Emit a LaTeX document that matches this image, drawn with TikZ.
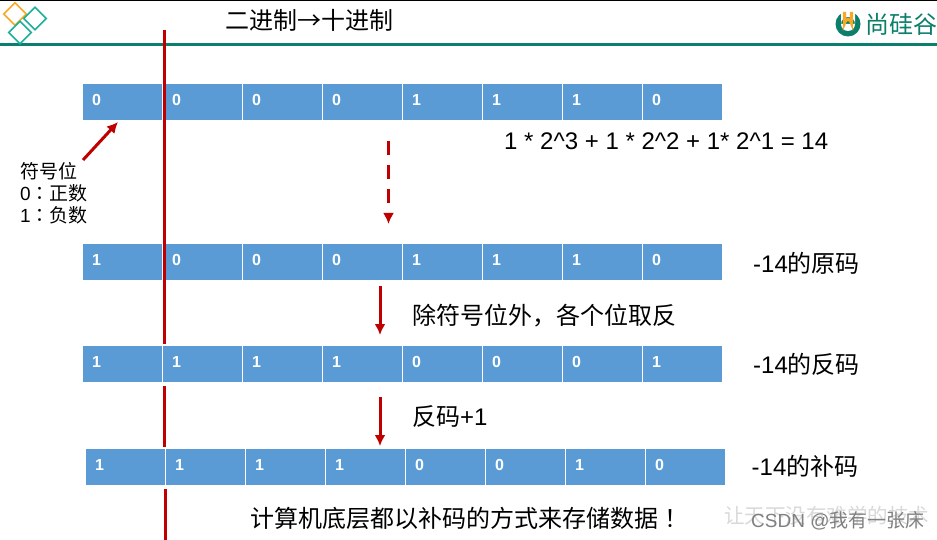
\documentclass[tikz,border=0pt]{standalone}
\usepackage{fontspec}
\setmainfont{Liberation Sans}
\newfontfamily\cjk{Noto Sans CJK SC}
\newfontfamily\cjkmid{Noto Sans CJK TC}
\usetikzlibrary{shapes.geometric,arrows.meta}

\begin{document}
\begin{tikzpicture}[x=1pt,y=-1pt,
  cell/.style={fill=cellblue,minimum width=79pt,minimum height=36pt,inner xsep=9pt,inner ysep=0pt,text width=61pt,align=left,text=white,text depth=5pt,font=\fontsize{16}{18}\selectfont\bfseries},
  txt/.style={anchor=west,inner sep=0pt,font=\fontsize{24}{28}\selectfont},
  small/.style={anchor=west,inner sep=0pt,font=\fontsize{19}{22}\selectfont},
  wmark/.style={anchor=west,inner sep=0pt,font=\fontsize{19}{22}\selectfont},
  redline/.style={draw=barred,line width=3pt},
  flow/.style={-{Latex[length=11pt,width=11pt]},draw=barred,line width=3pt},
  logo/.style={diamond,draw,line width=1.6pt,inner sep=0pt,minimum width=23pt,minimum height=23pt}]
\definecolor{cellblue}{HTML}{5B9BD5}
\definecolor{barred}{HTML}{C00000}
\definecolor{bargreen}{HTML}{0B7F6B}
\definecolor{logoteal}{HTML}{1CB09A}
\definecolor{logoorange}{HTML}{F9A825}
\useasboundingbox (0,0) rectangle (937,540);
\fill[white] (0,0) rectangle (937,540);

% Header
\draw[black,line width=1.5pt] (0,0.7) -- (937,0.7);
\draw[bargreen,line width=3pt] (0,44.5) -- (937,44.5);
\node[logo,draw=logoorange] (dia1) at (15,14) {};
\node[logo,draw=logoteal] (dia2) at (35,18.5) {};
\node[logo,draw=logoteal] (dia3) at (20,32.5) {};
\node[txt] (title) at (225,20) {\cjk 二进制→十进制};
% U mark and brand
\fill[bargreen] (848,24) circle[radius=12.5];
\fill[white] (841,9) rectangle (855,24) (848,24) circle[radius=7];
\draw[logoorange,line width=3.2pt] (844.5,12) -- (844.5,23) arc[start angle=180,end angle=360,radius=3.5] -- (851.5,12);
\node[txt,text=bargreen] (brand) at (865,24) {\cjk 尚硅谷};

% Bit rows
\foreach \rowname/\xpos/\ypos/\bits in {a/83/102/{0,0,0,0,1,1,1,0},b/83/262/{1,0,0,0,1,1,1,0},c/83/364/{1,1,1,1,0,0,0,1},d/86/467/{1,1,1,1,0,0,1,0}}
  \foreach \bit [count=\i] in \bits
    \node[cell] (\rowname\i) at ({\xpos+39.5+80*(\i-1)},\ypos) {\bit};

% Sign bit note
\node[small] (sign1) at (20,171) {\cjk 符号位};
\node[small] (sign2) at (20,193) {0{\cjkmid ：}\cjk 正数};
\node[small] (sign3) at (20,215) {1{\cjkmid ：}\cjk 负数};
\coordinate (s0) at (83,160); \coordinate (s1) at (118,122);
\draw[flow] (s0) -- (s1);

% Row labels
\node[txt] (sum) at (504,141) {1 * 2\^{}3 + 1 * 2\^{}2 + 1* 2\^{}1 = 14};
\node[txt] (yuan) at (753,263) {-14\cjk 的原码};
\node[txt] (fan) at (753,364) {-14\cjk 的反码};
\node[txt] (bu) at (751.5,466) {-14\cjk 的补码};
\node[txt] (step1) at (412,316) {\cjk 除符号位外，各个位取反};
\node[txt] (step2) at (412,417) {\cjk 反码{\rmfamily +1}};
\node[txt] (note) at (250,518) {\cjk 计算机底层都以补码的方式来存储数据{\cjkmid ！}};

% Arrows between rows
\coordinate (e0) at (388.5,141); \coordinate (e1) at (388.5,224);
\coordinate (f0) at (380,286); \coordinate (f1) at (380,335);
\coordinate (g0) at (380,397); \coordinate (g1) at (380,446);
\draw[flow,dash pattern=on 14pt off 10pt] (e0) -- (e1);
\draw[flow] (f0) -- (f1);
\draw[flow] (g0) -- (g1);

% Vertical divider
\coordinate (v0) at (164,30); \coordinate (v1) at (164,344);
\coordinate (v2) at (164.5,386); \coordinate (v3) at (164.5,447);
\coordinate (v4) at (165.5,489); \coordinate (v5) at (165.5,540);
\draw[redline] (v0) -- (v1);
\draw[redline] (v2) -- (v3);
\draw[redline] (v4) -- (v5);

% Watermarks
\node[wmark,text=black!15,font=\fontsize{20.5}{24}\selectfont] (wm1) at (724,516) {\cjk 让天下没有难学的技术};
\node[wmark,text=black!50] (wm2) at (751,521) {CSDN @\cjk 我有一张床};
\end{tikzpicture}
\end{document}
